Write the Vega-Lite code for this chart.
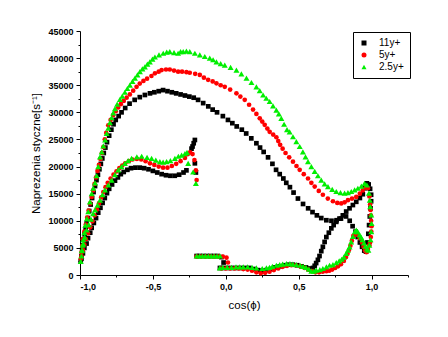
{
  "$schema": "https://vega.github.io/schema/vega-lite/v6.json",
  "width": 328,
  "height": 244,
  "autosize": {"type": "none"},
  "padding": {"left": 80, "top": 31, "right": 40, "bottom": 62},
  "background": "white",
  "config": {
    "view": {"stroke": null},
    "axis": {
      "grid": false,
      "domainColor": "black",
      "tickColor": "black",
      "labelColor": "black",
      "titleColor": "black",
      "labelFont": "Liberation Sans",
      "labelFontSize": 9,
      "labelFontWeight": "bold",
      "titleFont": "Liberation Sans",
      "titleFontSize": 11.5,
      "titleFontWeight": "normal",
      "tickSize": 4,
      "labelPadding": 3
    }
  },
  "datasets": {
    "pts": [
      {"cos": -0.995, "tau": 2500, "series": "11y+"},
      {"cos": -0.99, "tau": 3500, "series": "11y+"},
      {"cos": -0.985, "tau": 4500, "series": "11y+"},
      {"cos": -0.98, "tau": 5500, "series": "11y+"},
      {"cos": -0.975, "tau": 6500, "series": "11y+"},
      {"cos": -0.968, "tau": 7500, "series": "11y+"},
      {"cos": -0.961, "tau": 8500, "series": "11y+"},
      {"cos": -0.954, "tau": 9500, "series": "11y+"},
      {"cos": -0.946, "tau": 10500, "series": "11y+"},
      {"cos": -0.937, "tau": 11800, "series": "11y+"},
      {"cos": -0.927, "tau": 13000, "series": "11y+"},
      {"cos": -0.917, "tau": 14200, "series": "11y+"},
      {"cos": -0.907, "tau": 15300, "series": "11y+"},
      {"cos": -0.897, "tau": 16400, "series": "11y+"},
      {"cos": -0.887, "tau": 17500, "series": "11y+"},
      {"cos": -0.877, "tau": 18500, "series": "11y+"},
      {"cos": -0.867, "tau": 19500, "series": "11y+"},
      {"cos": -0.857, "tau": 20500, "series": "11y+"},
      {"cos": -0.847, "tau": 21500, "series": "11y+"},
      {"cos": -0.837, "tau": 22500, "series": "11y+"},
      {"cos": -0.826, "tau": 23500, "series": "11y+"},
      {"cos": -0.815, "tau": 24500, "series": "11y+"},
      {"cos": -0.8, "tau": 25700, "series": "11y+"},
      {"cos": -0.785, "tau": 26800, "series": "11y+"},
      {"cos": -0.77, "tau": 27800, "series": "11y+"},
      {"cos": -0.755, "tau": 28600, "series": "11y+"},
      {"cos": -0.735, "tau": 29300, "series": "11y+"},
      {"cos": -0.715, "tau": 30000, "series": "11y+"},
      {"cos": -0.69, "tau": 30800, "series": "11y+"},
      {"cos": -0.66, "tau": 31600, "series": "11y+"},
      {"cos": -0.625, "tau": 32300, "series": "11y+"},
      {"cos": -0.59, "tau": 32800, "series": "11y+"},
      {"cos": -0.555, "tau": 33200, "series": "11y+"},
      {"cos": -0.52, "tau": 33500, "series": "11y+"},
      {"cos": -0.49, "tau": 33700, "series": "11y+"},
      {"cos": -0.46, "tau": 33900, "series": "11y+"},
      {"cos": -0.43, "tau": 34100, "series": "11y+"},
      {"cos": -0.4, "tau": 33900, "series": "11y+"},
      {"cos": -0.37, "tau": 33700, "series": "11y+"},
      {"cos": -0.34, "tau": 33500, "series": "11y+"},
      {"cos": -0.31, "tau": 33300, "series": "11y+"},
      {"cos": -0.28, "tau": 33100, "series": "11y+"},
      {"cos": -0.25, "tau": 32900, "series": "11y+"},
      {"cos": -0.22, "tau": 32700, "series": "11y+"},
      {"cos": -0.19, "tau": 32300, "series": "11y+"},
      {"cos": -0.155, "tau": 31700, "series": "11y+"},
      {"cos": -0.12, "tau": 31100, "series": "11y+"},
      {"cos": -0.09, "tau": 30500, "series": "11y+"},
      {"cos": -0.06, "tau": 30000, "series": "11y+"},
      {"cos": -0.02, "tau": 29300, "series": "11y+"},
      {"cos": 0.015, "tau": 28600, "series": "11y+"},
      {"cos": 0.045, "tau": 28000, "series": "11y+"},
      {"cos": 0.075, "tau": 27400, "series": "11y+"},
      {"cos": 0.11, "tau": 26800, "series": "11y+"},
      {"cos": 0.14, "tau": 26100, "series": "11y+"},
      {"cos": 0.175, "tau": 25200, "series": "11y+"},
      {"cos": 0.21, "tau": 24300, "series": "11y+"},
      {"cos": 0.235, "tau": 23500, "series": "11y+"},
      {"cos": 0.26, "tau": 22700, "series": "11y+"},
      {"cos": 0.29, "tau": 21700, "series": "11y+"},
      {"cos": 0.32, "tau": 20500, "series": "11y+"},
      {"cos": 0.345, "tau": 19400, "series": "11y+"},
      {"cos": 0.37, "tau": 18600, "series": "11y+"},
      {"cos": 0.395, "tau": 17800, "series": "11y+"},
      {"cos": 0.415, "tau": 17000, "series": "11y+"},
      {"cos": 0.44, "tau": 16200, "series": "11y+"},
      {"cos": 0.465, "tau": 15200, "series": "11y+"},
      {"cos": 0.495, "tau": 14100, "series": "11y+"},
      {"cos": 0.53, "tau": 13100, "series": "11y+"},
      {"cos": 0.565, "tau": 12300, "series": "11y+"},
      {"cos": 0.595, "tau": 11600, "series": "11y+"},
      {"cos": 0.625, "tau": 11000, "series": "11y+"},
      {"cos": 0.655, "tau": 10500, "series": "11y+"},
      {"cos": 0.69, "tau": 10100, "series": "11y+"},
      {"cos": 0.725, "tau": 10000, "series": "11y+"},
      {"cos": 0.76, "tau": 10100, "series": "11y+"},
      {"cos": 0.79, "tau": 10400, "series": "11y+"},
      {"cos": 0.825, "tau": 10800, "series": "11y+"},
      {"cos": 0.85, "tau": 10000, "series": "11y+"},
      {"cos": 0.87, "tau": 9000, "series": "11y+"},
      {"cos": 0.89, "tau": 8000, "series": "11y+"},
      {"cos": 0.905, "tau": 7000, "series": "11y+"},
      {"cos": 0.92, "tau": 6000, "series": "11y+"},
      {"cos": 0.935, "tau": 5200, "series": "11y+"},
      {"cos": 0.95, "tau": 4500, "series": "11y+"},
      {"cos": 0.962, "tau": 4300, "series": "11y+"},
      {"cos": 0.972, "tau": 6000, "series": "11y+"},
      {"cos": 0.978, "tau": 7600, "series": "11y+"},
      {"cos": 0.983, "tau": 9200, "series": "11y+"},
      {"cos": 0.988, "tau": 10800, "series": "11y+"},
      {"cos": 0.993, "tau": 12300, "series": "11y+"},
      {"cos": 0.997, "tau": 13600, "series": "11y+"},
      {"cos": 0.997, "tau": 14800, "series": "11y+"},
      {"cos": 0.99, "tau": 15900, "series": "11y+"},
      {"cos": 0.98, "tau": 16700, "series": "11y+"},
      {"cos": 0.968, "tau": 16900, "series": "11y+"},
      {"cos": 0.955, "tau": 16000, "series": "11y+"},
      {"cos": 0.94, "tau": 14900, "series": "11y+"},
      {"cos": 0.92, "tau": 14200, "series": "11y+"},
      {"cos": 0.895, "tau": 13500, "series": "11y+"},
      {"cos": 0.872, "tau": 12900, "series": "11y+"},
      {"cos": 0.849, "tau": 12300, "series": "11y+"},
      {"cos": 0.826, "tau": 11700, "series": "11y+"},
      {"cos": 0.803, "tau": 11000, "series": "11y+"},
      {"cos": 0.78, "tau": 10400, "series": "11y+"},
      {"cos": 0.758, "tau": 9800, "series": "11y+"},
      {"cos": 0.74, "tau": 9200, "series": "11y+"},
      {"cos": 0.724, "tau": 8600, "series": "11y+"},
      {"cos": 0.707, "tau": 7800, "series": "11y+"},
      {"cos": 0.69, "tau": 7000, "series": "11y+"},
      {"cos": 0.678, "tau": 6100, "series": "11y+"},
      {"cos": 0.666, "tau": 5200, "series": "11y+"},
      {"cos": 0.655, "tau": 4400, "series": "11y+"},
      {"cos": 0.643, "tau": 3500, "series": "11y+"},
      {"cos": 0.632, "tau": 2800, "series": "11y+"},
      {"cos": 0.62, "tau": 2200, "series": "11y+"},
      {"cos": 0.61, "tau": 1700, "series": "11y+"},
      {"cos": 0.598, "tau": 1300, "series": "11y+"},
      {"cos": 0.585, "tau": 1000, "series": "11y+"},
      {"cos": 0.57, "tau": 1200, "series": "11y+"},
      {"cos": 0.55, "tau": 1400, "series": "11y+"},
      {"cos": 0.52, "tau": 1600, "series": "11y+"},
      {"cos": 0.49, "tau": 1800, "series": "11y+"},
      {"cos": 0.46, "tau": 1900, "series": "11y+"},
      {"cos": 0.43, "tau": 1900, "series": "11y+"},
      {"cos": 0.4, "tau": 1800, "series": "11y+"},
      {"cos": 0.37, "tau": 1600, "series": "11y+"},
      {"cos": 0.34, "tau": 1400, "series": "11y+"},
      {"cos": 0.31, "tau": 1100, "series": "11y+"},
      {"cos": 0.28, "tau": 900, "series": "11y+"},
      {"cos": 0.25, "tau": 800, "series": "11y+"},
      {"cos": 0.22, "tau": 900, "series": "11y+"},
      {"cos": 0.19, "tau": 1100, "series": "11y+"},
      {"cos": 0.16, "tau": 1300, "series": "11y+"},
      {"cos": 0.13, "tau": 1300, "series": "11y+"},
      {"cos": 0.1, "tau": 1300, "series": "11y+"},
      {"cos": 0.07, "tau": 1300, "series": "11y+"},
      {"cos": 0.04, "tau": 1300, "series": "11y+"},
      {"cos": 0.01, "tau": 1300, "series": "11y+"},
      {"cos": -0.02, "tau": 1300, "series": "11y+"},
      {"cos": -0.04, "tau": 1300, "series": "11y+"},
      {"cos": -0.015, "tau": 2300, "series": "11y+"},
      {"cos": -0.03, "tau": 3300, "series": "11y+"},
      {"cos": -0.055, "tau": 3500, "series": "11y+"},
      {"cos": -0.08, "tau": 3500, "series": "11y+"},
      {"cos": -0.105, "tau": 3500, "series": "11y+"},
      {"cos": -0.13, "tau": 3500, "series": "11y+"},
      {"cos": -0.155, "tau": 3500, "series": "11y+"},
      {"cos": -0.18, "tau": 3500, "series": "11y+"},
      {"cos": -0.2, "tau": 3500, "series": "11y+"},
      {"cos": -0.205, "tau": 18900, "series": "11y+"},
      {"cos": -0.212, "tau": 20600, "series": "11y+"},
      {"cos": -0.235, "tau": 23300, "series": "11y+"},
      {"cos": -0.228, "tau": 23700, "series": "11y+"},
      {"cos": -0.22, "tau": 24300, "series": "11y+"},
      {"cos": -0.212, "tau": 24900, "series": "11y+"},
      {"cos": -0.99, "tau": 3000, "series": "11y+"},
      {"cos": -0.98, "tau": 4000, "series": "11y+"},
      {"cos": -0.97, "tau": 5000, "series": "11y+"},
      {"cos": -0.955, "tau": 5800, "series": "11y+"},
      {"cos": -0.945, "tau": 6800, "series": "11y+"},
      {"cos": -0.93, "tau": 7800, "series": "11y+"},
      {"cos": -0.92, "tau": 8700, "series": "11y+"},
      {"cos": -0.905, "tau": 9600, "series": "11y+"},
      {"cos": -0.89, "tau": 10500, "series": "11y+"},
      {"cos": -0.875, "tau": 11500, "series": "11y+"},
      {"cos": -0.86, "tau": 12400, "series": "11y+"},
      {"cos": -0.845, "tau": 13300, "series": "11y+"},
      {"cos": -0.83, "tau": 14200, "series": "11y+"},
      {"cos": -0.815, "tau": 15100, "series": "11y+"},
      {"cos": -0.8, "tau": 15900, "series": "11y+"},
      {"cos": -0.78, "tau": 16700, "series": "11y+"},
      {"cos": -0.76, "tau": 17400, "series": "11y+"},
      {"cos": -0.74, "tau": 18000, "series": "11y+"},
      {"cos": -0.72, "tau": 18600, "series": "11y+"},
      {"cos": -0.7, "tau": 19000, "series": "11y+"},
      {"cos": -0.675, "tau": 19400, "series": "11y+"},
      {"cos": -0.65, "tau": 19700, "series": "11y+"},
      {"cos": -0.62, "tau": 19800, "series": "11y+"},
      {"cos": -0.59, "tau": 19800, "series": "11y+"},
      {"cos": -0.56, "tau": 19700, "series": "11y+"},
      {"cos": -0.53, "tau": 19500, "series": "11y+"},
      {"cos": -0.5, "tau": 19200, "series": "11y+"},
      {"cos": -0.47, "tau": 18900, "series": "11y+"},
      {"cos": -0.44, "tau": 18600, "series": "11y+"},
      {"cos": -0.41, "tau": 18400, "series": "11y+"},
      {"cos": -0.38, "tau": 18300, "series": "11y+"},
      {"cos": -0.35, "tau": 18300, "series": "11y+"},
      {"cos": -0.32, "tau": 18500, "series": "11y+"},
      {"cos": -0.29, "tau": 18900, "series": "11y+"},
      {"cos": -0.27, "tau": 19300, "series": "11y+"},

      {"cos": -0.995, "tau": 3000, "series": "5y+"},
      {"cos": -0.99, "tau": 4200, "series": "5y+"},
      {"cos": -0.985, "tau": 5400, "series": "5y+"},
      {"cos": -0.98, "tau": 6600, "series": "5y+"},
      {"cos": -0.97, "tau": 8000, "series": "5y+"},
      {"cos": -0.96, "tau": 9300, "series": "5y+"},
      {"cos": -0.95, "tau": 10600, "series": "5y+"},
      {"cos": -0.94, "tau": 11900, "series": "5y+"},
      {"cos": -0.93, "tau": 13200, "series": "5y+"},
      {"cos": -0.92, "tau": 14400, "series": "5y+"},
      {"cos": -0.91, "tau": 15600, "series": "5y+"},
      {"cos": -0.9, "tau": 16800, "series": "5y+"},
      {"cos": -0.89, "tau": 18000, "series": "5y+"},
      {"cos": -0.88, "tau": 19200, "series": "5y+"},
      {"cos": -0.87, "tau": 20300, "series": "5y+"},
      {"cos": -0.86, "tau": 21400, "series": "5y+"},
      {"cos": -0.85, "tau": 22500, "series": "5y+"},
      {"cos": -0.84, "tau": 23600, "series": "5y+"},
      {"cos": -0.83, "tau": 25000, "series": "5y+"},
      {"cos": -0.82, "tau": 26200, "series": "5y+"},
      {"cos": -0.806, "tau": 27600, "series": "5y+"},
      {"cos": -0.79, "tau": 28600, "series": "5y+"},
      {"cos": -0.772, "tau": 29500, "series": "5y+"},
      {"cos": -0.755, "tau": 30200, "series": "5y+"},
      {"cos": -0.738, "tau": 30900, "series": "5y+"},
      {"cos": -0.72, "tau": 31500, "series": "5y+"},
      {"cos": -0.7, "tau": 32100, "series": "5y+"},
      {"cos": -0.68, "tau": 32700, "series": "5y+"},
      {"cos": -0.658, "tau": 33300, "series": "5y+"},
      {"cos": -0.635, "tau": 34000, "series": "5y+"},
      {"cos": -0.612, "tau": 34700, "series": "5y+"},
      {"cos": -0.59, "tau": 35300, "series": "5y+"},
      {"cos": -0.565, "tau": 35800, "series": "5y+"},
      {"cos": -0.54, "tau": 36200, "series": "5y+"},
      {"cos": -0.51, "tau": 36700, "series": "5y+"},
      {"cos": -0.486, "tau": 37200, "series": "5y+"},
      {"cos": -0.46, "tau": 37500, "series": "5y+"},
      {"cos": -0.44, "tau": 37800, "series": "5y+"},
      {"cos": -0.41, "tau": 37900, "series": "5y+"},
      {"cos": -0.384, "tau": 37900, "series": "5y+"},
      {"cos": -0.355, "tau": 37700, "series": "5y+"},
      {"cos": -0.327, "tau": 37500, "series": "5y+"},
      {"cos": -0.3, "tau": 37500, "series": "5y+"},
      {"cos": -0.27, "tau": 37400, "series": "5y+"},
      {"cos": -0.247, "tau": 37300, "series": "5y+"},
      {"cos": -0.21, "tau": 37100, "series": "5y+"},
      {"cos": -0.178, "tau": 36900, "series": "5y+"},
      {"cos": -0.15, "tau": 36400, "series": "5y+"},
      {"cos": -0.121, "tau": 36000, "series": "5y+"},
      {"cos": -0.09, "tau": 35700, "series": "5y+"},
      {"cos": -0.064, "tau": 35350, "series": "5y+"},
      {"cos": -0.035, "tau": 35000, "series": "5y+"},
      {"cos": -0.007, "tau": 34700, "series": "5y+"},
      {"cos": 0.03, "tau": 34200, "series": "5y+"},
      {"cos": 0.073, "tau": 33500, "series": "5y+"},
      {"cos": 0.1, "tau": 32900, "series": "5y+"},
      {"cos": 0.13, "tau": 32300, "series": "5y+"},
      {"cos": 0.16, "tau": 31400, "series": "5y+"},
      {"cos": 0.187, "tau": 30500, "series": "5y+"},
      {"cos": 0.21, "tau": 29700, "series": "5y+"},
      {"cos": 0.233, "tau": 28900, "series": "5y+"},
      {"cos": 0.25, "tau": 28300, "series": "5y+"},
      {"cos": 0.267, "tau": 27700, "series": "5y+"},
      {"cos": 0.285, "tau": 27000, "series": "5y+"},
      {"cos": 0.301, "tau": 26400, "series": "5y+"},
      {"cos": 0.325, "tau": 25900, "series": "5y+"},
      {"cos": 0.347, "tau": 25400, "series": "5y+"},
      {"cos": 0.36, "tau": 24700, "series": "5y+"},
      {"cos": 0.373, "tau": 24000, "series": "5y+"},
      {"cos": 0.39, "tau": 23300, "series": "5y+"},
      {"cos": 0.41, "tau": 22500, "series": "5y+"},
      {"cos": 0.435, "tau": 21700, "series": "5y+"},
      {"cos": 0.461, "tau": 20900, "series": "5y+"},
      {"cos": 0.485, "tau": 20100, "series": "5y+"},
      {"cos": 0.507, "tau": 19400, "series": "5y+"},
      {"cos": 0.535, "tau": 18600, "series": "5y+"},
      {"cos": 0.564, "tau": 17800, "series": "5y+"},
      {"cos": 0.587, "tau": 17000, "series": "5y+"},
      {"cos": 0.61, "tau": 16300, "series": "5y+"},
      {"cos": 0.638, "tau": 15500, "series": "5y+"},
      {"cos": 0.666, "tau": 14800, "series": "5y+"},
      {"cos": 0.7, "tau": 14100, "series": "5y+"},
      {"cos": 0.735, "tau": 13600, "series": "5y+"},
      {"cos": 0.765, "tau": 13300, "series": "5y+"},
      {"cos": 0.792, "tau": 13200, "series": "5y+"},
      {"cos": 0.815, "tau": 13400, "series": "5y+"},
      {"cos": 0.838, "tau": 13800, "series": "5y+"},
      {"cos": 0.866, "tau": 14100, "series": "5y+"},
      {"cos": 0.895, "tau": 14400, "series": "5y+"},
      {"cos": 0.92, "tau": 15000, "series": "5y+"},
      {"cos": 0.94, "tau": 15600, "series": "5y+"},
      {"cos": 0.96, "tau": 16100, "series": "5y+"},
      {"cos": 0.975, "tau": 16000, "series": "5y+"},
      {"cos": 0.985, "tau": 14500, "series": "5y+"},
      {"cos": 0.99, "tau": 13000, "series": "5y+"},
      {"cos": 0.993, "tau": 12000, "series": "5y+"},
      {"cos": 0.995, "tau": 11000, "series": "5y+"},
      {"cos": 0.997, "tau": 10000, "series": "5y+"},
      {"cos": 1.0, "tau": 9000, "series": "5y+"},
      {"cos": 0.998, "tau": 8000, "series": "5y+"},
      {"cos": 0.995, "tau": 7000, "series": "5y+"},
      {"cos": 0.99, "tau": 6000, "series": "5y+"},
      {"cos": 0.985, "tau": 5500, "series": "5y+"},
      {"cos": 0.975, "tau": 4800, "series": "5y+"},
      {"cos": 0.965, "tau": 4200, "series": "5y+"},
      {"cos": 0.955, "tau": 4500, "series": "5y+"},
      {"cos": 0.945, "tau": 5200, "series": "5y+"},
      {"cos": 0.935, "tau": 6000, "series": "5y+"},
      {"cos": 0.92, "tau": 6800, "series": "5y+"},
      {"cos": 0.905, "tau": 7400, "series": "5y+"},
      {"cos": 0.89, "tau": 7600, "series": "5y+"},
      {"cos": 0.875, "tau": 7200, "series": "5y+"},
      {"cos": 0.865, "tau": 6300, "series": "5y+"},
      {"cos": 0.855, "tau": 5400, "series": "5y+"},
      {"cos": 0.845, "tau": 4600, "series": "5y+"},
      {"cos": 0.835, "tau": 3900, "series": "5y+"},
      {"cos": 0.825, "tau": 3300, "series": "5y+"},
      {"cos": 0.81, "tau": 2600, "series": "5y+"},
      {"cos": 0.79, "tau": 2000, "series": "5y+"},
      {"cos": 0.77, "tau": 1600, "series": "5y+"},
      {"cos": 0.75, "tau": 1300, "series": "5y+"},
      {"cos": 0.73, "tau": 1000, "series": "5y+"},
      {"cos": 0.71, "tau": 800, "series": "5y+"},
      {"cos": 0.69, "tau": 700, "series": "5y+"},
      {"cos": 0.665, "tau": 600, "series": "5y+"},
      {"cos": 0.64, "tau": 500, "series": "5y+"},
      {"cos": 0.615, "tau": 500, "series": "5y+"},
      {"cos": 0.59, "tau": 700, "series": "5y+"},
      {"cos": 0.565, "tau": 1000, "series": "5y+"},
      {"cos": 0.54, "tau": 1300, "series": "5y+"},
      {"cos": 0.51, "tau": 1600, "series": "5y+"},
      {"cos": 0.48, "tau": 1800, "series": "5y+"},
      {"cos": 0.45, "tau": 1800, "series": "5y+"},
      {"cos": 0.42, "tau": 1700, "series": "5y+"},
      {"cos": 0.39, "tau": 1500, "series": "5y+"},
      {"cos": 0.36, "tau": 1200, "series": "5y+"},
      {"cos": 0.33, "tau": 900, "series": "5y+"},
      {"cos": 0.3, "tau": 600, "series": "5y+"},
      {"cos": 0.27, "tau": 400, "series": "5y+"},
      {"cos": 0.24, "tau": 300, "series": "5y+"},
      {"cos": 0.21, "tau": 500, "series": "5y+"},
      {"cos": 0.18, "tau": 800, "series": "5y+"},
      {"cos": 0.15, "tau": 1000, "series": "5y+"},
      {"cos": 0.12, "tau": 1100, "series": "5y+"},
      {"cos": 0.09, "tau": 1200, "series": "5y+"},
      {"cos": 0.06, "tau": 1200, "series": "5y+"},
      {"cos": 0.03, "tau": 1200, "series": "5y+"},
      {"cos": 0.0, "tau": 1200, "series": "5y+"},
      {"cos": -0.03, "tau": 1200, "series": "5y+"},
      {"cos": 0.015, "tau": 2300, "series": "5y+"},
      {"cos": 0.005, "tau": 3200, "series": "5y+"},
      {"cos": -0.02, "tau": 3400, "series": "5y+"},
      {"cos": -0.05, "tau": 3400, "series": "5y+"},
      {"cos": -0.08, "tau": 3400, "series": "5y+"},
      {"cos": -0.11, "tau": 3400, "series": "5y+"},
      {"cos": -0.14, "tau": 3400, "series": "5y+"},
      {"cos": -0.17, "tau": 3400, "series": "5y+"},
      {"cos": -0.2, "tau": 3400, "series": "5y+"},
      {"cos": -0.99, "tau": 3500, "series": "5y+"},
      {"cos": -0.98, "tau": 4600, "series": "5y+"},
      {"cos": -0.97, "tau": 5600, "series": "5y+"},
      {"cos": -0.96, "tau": 6600, "series": "5y+"},
      {"cos": -0.945, "tau": 7700, "series": "5y+"},
      {"cos": -0.93, "tau": 8800, "series": "5y+"},
      {"cos": -0.915, "tau": 9900, "series": "5y+"},
      {"cos": -0.9, "tau": 11000, "series": "5y+"},
      {"cos": -0.885, "tau": 12100, "series": "5y+"},
      {"cos": -0.87, "tau": 13200, "series": "5y+"},
      {"cos": -0.855, "tau": 14300, "series": "5y+"},
      {"cos": -0.84, "tau": 15300, "series": "5y+"},
      {"cos": -0.825, "tau": 16200, "series": "5y+"},
      {"cos": -0.81, "tau": 17000, "series": "5y+"},
      {"cos": -0.79, "tau": 17800, "series": "5y+"},
      {"cos": -0.77, "tau": 18500, "series": "5y+"},
      {"cos": -0.75, "tau": 19100, "series": "5y+"},
      {"cos": -0.73, "tau": 19700, "series": "5y+"},
      {"cos": -0.71, "tau": 20200, "series": "5y+"},
      {"cos": -0.69, "tau": 20600, "series": "5y+"},
      {"cos": -0.665, "tau": 21000, "series": "5y+"},
      {"cos": -0.64, "tau": 21300, "series": "5y+"},
      {"cos": -0.61, "tau": 21400, "series": "5y+"},
      {"cos": -0.58, "tau": 21300, "series": "5y+"},
      {"cos": -0.55, "tau": 21000, "series": "5y+"},
      {"cos": -0.52, "tau": 20600, "series": "5y+"},
      {"cos": -0.49, "tau": 20300, "series": "5y+"},
      {"cos": -0.46, "tau": 20000, "series": "5y+"},
      {"cos": -0.43, "tau": 19800, "series": "5y+"},
      {"cos": -0.4, "tau": 19800, "series": "5y+"},
      {"cos": -0.37, "tau": 20100, "series": "5y+"},
      {"cos": -0.34, "tau": 20500, "series": "5y+"},
      {"cos": -0.31, "tau": 21000, "series": "5y+"},
      {"cos": -0.28, "tau": 21600, "series": "5y+"},
      {"cos": -0.26, "tau": 22300, "series": "5y+"},
      {"cos": -0.245, "tau": 22600, "series": "5y+"},
      {"cos": -0.228, "tau": 22300, "series": "5y+"},
      {"cos": -0.215, "tau": 21200, "series": "5y+"},
      {"cos": -0.205, "tau": 19300, "series": "5y+"},
      {"cos": -0.2, "tau": 17500, "series": "5y+"},

      {"cos": -0.995, "tau": 2500, "series": "2.5y+"},
      {"cos": -0.99, "tau": 3500, "series": "2.5y+"},
      {"cos": -0.988, "tau": 4500, "series": "2.5y+"},
      {"cos": -0.982, "tau": 5500, "series": "2.5y+"},
      {"cos": -0.977, "tau": 6500, "series": "2.5y+"},
      {"cos": -0.97, "tau": 7800, "series": "2.5y+"},
      {"cos": -0.963, "tau": 9200, "series": "2.5y+"},
      {"cos": -0.953, "tau": 10400, "series": "2.5y+"},
      {"cos": -0.943, "tau": 11700, "series": "2.5y+"},
      {"cos": -0.932, "tau": 13500, "series": "2.5y+"},
      {"cos": -0.92, "tau": 15000, "series": "2.5y+"},
      {"cos": -0.909, "tau": 16000, "series": "2.5y+"},
      {"cos": -0.897, "tau": 17000, "series": "2.5y+"},
      {"cos": -0.886, "tau": 18300, "series": "2.5y+"},
      {"cos": -0.875, "tau": 20000, "series": "2.5y+"},
      {"cos": -0.863, "tau": 21800, "series": "2.5y+"},
      {"cos": -0.851, "tau": 22700, "series": "2.5y+"},
      {"cos": -0.84, "tau": 23800, "series": "2.5y+"},
      {"cos": -0.828, "tau": 24900, "series": "2.5y+"},
      {"cos": -0.817, "tau": 26100, "series": "2.5y+"},
      {"cos": -0.806, "tau": 27100, "series": "2.5y+"},
      {"cos": -0.795, "tau": 28100, "series": "2.5y+"},
      {"cos": -0.783, "tau": 29000, "series": "2.5y+"},
      {"cos": -0.772, "tau": 29900, "series": "2.5y+"},
      {"cos": -0.76, "tau": 30700, "series": "2.5y+"},
      {"cos": -0.745, "tau": 31500, "series": "2.5y+"},
      {"cos": -0.726, "tau": 32400, "series": "2.5y+"},
      {"cos": -0.71, "tau": 33000, "series": "2.5y+"},
      {"cos": -0.692, "tau": 33700, "series": "2.5y+"},
      {"cos": -0.675, "tau": 34400, "series": "2.5y+"},
      {"cos": -0.658, "tau": 35000, "series": "2.5y+"},
      {"cos": -0.64, "tau": 35700, "series": "2.5y+"},
      {"cos": -0.623, "tau": 36300, "series": "2.5y+"},
      {"cos": -0.606, "tau": 36900, "series": "2.5y+"},
      {"cos": -0.589, "tau": 37500, "series": "2.5y+"},
      {"cos": -0.572, "tau": 38000, "series": "2.5y+"},
      {"cos": -0.555, "tau": 38400, "series": "2.5y+"},
      {"cos": -0.538, "tau": 38900, "series": "2.5y+"},
      {"cos": -0.521, "tau": 39300, "series": "2.5y+"},
      {"cos": -0.503, "tau": 39800, "series": "2.5y+"},
      {"cos": -0.486, "tau": 40200, "series": "2.5y+"},
      {"cos": -0.458, "tau": 40600, "series": "2.5y+"},
      {"cos": -0.429, "tau": 40900, "series": "2.5y+"},
      {"cos": -0.405, "tau": 41100, "series": "2.5y+"},
      {"cos": -0.384, "tau": 41200, "series": "2.5y+"},
      {"cos": -0.355, "tau": 41000, "series": "2.5y+"},
      {"cos": -0.327, "tau": 40900, "series": "2.5y+"},
      {"cos": -0.31, "tau": 41200, "series": "2.5y+"},
      {"cos": -0.292, "tau": 41200, "series": "2.5y+"},
      {"cos": -0.27, "tau": 41300, "series": "2.5y+"},
      {"cos": -0.247, "tau": 41200, "series": "2.5y+"},
      {"cos": -0.212, "tau": 40900, "series": "2.5y+"},
      {"cos": -0.178, "tau": 40600, "series": "2.5y+"},
      {"cos": -0.144, "tau": 40300, "series": "2.5y+"},
      {"cos": -0.11, "tau": 40000, "series": "2.5y+"},
      {"cos": -0.087, "tau": 39700, "series": "2.5y+"},
      {"cos": -0.064, "tau": 39300, "series": "2.5y+"},
      {"cos": -0.035, "tau": 39000, "series": "2.5y+"},
      {"cos": -0.007, "tau": 38700, "series": "2.5y+"},
      {"cos": 0.033, "tau": 38300, "series": "2.5y+"},
      {"cos": 0.073, "tau": 37800, "series": "2.5y+"},
      {"cos": 0.107, "tau": 37100, "series": "2.5y+"},
      {"cos": 0.142, "tau": 36300, "series": "2.5y+"},
      {"cos": 0.176, "tau": 35500, "series": "2.5y+"},
      {"cos": 0.21, "tau": 34700, "series": "2.5y+"},
      {"cos": 0.233, "tau": 34000, "series": "2.5y+"},
      {"cos": 0.256, "tau": 33200, "series": "2.5y+"},
      {"cos": 0.278, "tau": 32600, "series": "2.5y+"},
      {"cos": 0.301, "tau": 32000, "series": "2.5y+"},
      {"cos": 0.324, "tau": 31200, "series": "2.5y+"},
      {"cos": 0.347, "tau": 30400, "series": "2.5y+"},
      {"cos": 0.364, "tau": 29700, "series": "2.5y+"},
      {"cos": 0.381, "tau": 28900, "series": "2.5y+"},
      {"cos": 0.4, "tau": 27800, "series": "2.5y+"},
      {"cos": 0.42, "tau": 26800, "series": "2.5y+"},
      {"cos": 0.438, "tau": 26400, "series": "2.5y+"},
      {"cos": 0.461, "tau": 25500, "series": "2.5y+"},
      {"cos": 0.484, "tau": 24600, "series": "2.5y+"},
      {"cos": 0.507, "tau": 23700, "series": "2.5y+"},
      {"cos": 0.529, "tau": 22700, "series": "2.5y+"},
      {"cos": 0.547, "tau": 21800, "series": "2.5y+"},
      {"cos": 0.564, "tau": 20900, "series": "2.5y+"},
      {"cos": 0.587, "tau": 20000, "series": "2.5y+"},
      {"cos": 0.61, "tau": 19100, "series": "2.5y+"},
      {"cos": 0.632, "tau": 18300, "series": "2.5y+"},
      {"cos": 0.655, "tau": 17500, "series": "2.5y+"},
      {"cos": 0.678, "tau": 16800, "series": "2.5y+"},
      {"cos": 0.701, "tau": 16300, "series": "2.5y+"},
      {"cos": 0.73, "tau": 15800, "series": "2.5y+"},
      {"cos": 0.758, "tau": 15400, "series": "2.5y+"},
      {"cos": 0.787, "tau": 15200, "series": "2.5y+"},
      {"cos": 0.815, "tau": 15100, "series": "2.5y+"},
      {"cos": 0.838, "tau": 15200, "series": "2.5y+"},
      {"cos": 0.861, "tau": 15400, "series": "2.5y+"},
      {"cos": 0.884, "tau": 15700, "series": "2.5y+"},
      {"cos": 0.906, "tau": 16000, "series": "2.5y+"},
      {"cos": 0.93, "tau": 16400, "series": "2.5y+"},
      {"cos": 0.952, "tau": 16900, "series": "2.5y+"},
      {"cos": 0.968, "tau": 16600, "series": "2.5y+"},
      {"cos": 0.982, "tau": 15100, "series": "2.5y+"},
      {"cos": 0.988, "tau": 13800, "series": "2.5y+"},
      {"cos": 0.991, "tau": 12600, "series": "2.5y+"},
      {"cos": 0.998, "tau": 11100, "series": "2.5y+"},
      {"cos": 1.0, "tau": 9500, "series": "2.5y+"},
      {"cos": 0.998, "tau": 8000, "series": "2.5y+"},
      {"cos": 0.993, "tau": 6500, "series": "2.5y+"},
      {"cos": 0.985, "tau": 5500, "series": "2.5y+"},
      {"cos": 0.978, "tau": 4600, "series": "2.5y+"},
      {"cos": 0.968, "tau": 4800, "series": "2.5y+"},
      {"cos": 0.958, "tau": 5300, "series": "2.5y+"},
      {"cos": 0.948, "tau": 5900, "series": "2.5y+"},
      {"cos": 0.938, "tau": 6500, "series": "2.5y+"},
      {"cos": 0.928, "tau": 7000, "series": "2.5y+"},
      {"cos": 0.918, "tau": 7400, "series": "2.5y+"},
      {"cos": 0.905, "tau": 8000, "series": "2.5y+"},
      {"cos": 0.895, "tau": 8300, "series": "2.5y+"},
      {"cos": 0.885, "tau": 8000, "series": "2.5y+"},
      {"cos": 0.872, "tau": 7100, "series": "2.5y+"},
      {"cos": 0.86, "tau": 6100, "series": "2.5y+"},
      {"cos": 0.849, "tau": 5200, "series": "2.5y+"},
      {"cos": 0.838, "tau": 4600, "series": "2.5y+"},
      {"cos": 0.826, "tau": 4000, "series": "2.5y+"},
      {"cos": 0.81, "tau": 3300, "series": "2.5y+"},
      {"cos": 0.795, "tau": 2900, "series": "2.5y+"},
      {"cos": 0.778, "tau": 2600, "series": "2.5y+"},
      {"cos": 0.758, "tau": 2300, "series": "2.5y+"},
      {"cos": 0.735, "tau": 1900, "series": "2.5y+"},
      {"cos": 0.712, "tau": 1800, "series": "2.5y+"},
      {"cos": 0.69, "tau": 1500, "series": "2.5y+"},
      {"cos": 0.666, "tau": 1200, "series": "2.5y+"},
      {"cos": 0.645, "tau": 1000, "series": "2.5y+"},
      {"cos": 0.621, "tau": 900, "series": "2.5y+"},
      {"cos": 0.605, "tau": 700, "series": "2.5y+"},
      {"cos": 0.587, "tau": 700, "series": "2.5y+"},
      {"cos": 0.57, "tau": 1100, "series": "2.5y+"},
      {"cos": 0.55, "tau": 1400, "series": "2.5y+"},
      {"cos": 0.53, "tau": 1600, "series": "2.5y+"},
      {"cos": 0.51, "tau": 1800, "series": "2.5y+"},
      {"cos": 0.484, "tau": 1900, "series": "2.5y+"},
      {"cos": 0.46, "tau": 2000, "series": "2.5y+"},
      {"cos": 0.44, "tau": 2100, "series": "2.5y+"},
      {"cos": 0.416, "tau": 2100, "series": "2.5y+"},
      {"cos": 0.39, "tau": 2000, "series": "2.5y+"},
      {"cos": 0.37, "tau": 1900, "series": "2.5y+"},
      {"cos": 0.347, "tau": 1800, "series": "2.5y+"},
      {"cos": 0.32, "tau": 1600, "series": "2.5y+"},
      {"cos": 0.3, "tau": 1400, "series": "2.5y+"},
      {"cos": 0.279, "tau": 1300, "series": "2.5y+"},
      {"cos": 0.25, "tau": 1200, "series": "2.5y+"},
      {"cos": 0.21, "tau": 1300, "series": "2.5y+"},
      {"cos": 0.18, "tau": 1400, "series": "2.5y+"},
      {"cos": 0.15, "tau": 1500, "series": "2.5y+"},
      {"cos": 0.12, "tau": 1500, "series": "2.5y+"},
      {"cos": 0.096, "tau": 1500, "series": "2.5y+"},
      {"cos": 0.07, "tau": 1500, "series": "2.5y+"},
      {"cos": 0.04, "tau": 1400, "series": "2.5y+"},
      {"cos": 0.01, "tau": 1400, "series": "2.5y+"},
      {"cos": -0.02, "tau": 1400, "series": "2.5y+"},
      {"cos": -0.041, "tau": 1300, "series": "2.5y+"},
      {"cos": -0.04, "tau": 3500, "series": "2.5y+"},
      {"cos": -0.06, "tau": 3500, "series": "2.5y+"},
      {"cos": -0.08, "tau": 3500, "series": "2.5y+"},
      {"cos": -0.1, "tau": 3500, "series": "2.5y+"},
      {"cos": -0.12, "tau": 3500, "series": "2.5y+"},
      {"cos": -0.14, "tau": 3500, "series": "2.5y+"},
      {"cos": -0.16, "tau": 3500, "series": "2.5y+"},
      {"cos": -0.18, "tau": 3500, "series": "2.5y+"},
      {"cos": -0.2, "tau": 3500, "series": "2.5y+"},
      {"cos": -0.985, "tau": 4600, "series": "2.5y+"},
      {"cos": -0.978, "tau": 5800, "series": "2.5y+"},
      {"cos": -0.968, "tau": 7000, "series": "2.5y+"},
      {"cos": -0.955, "tau": 8300, "series": "2.5y+"},
      {"cos": -0.94, "tau": 9300, "series": "2.5y+"},
      {"cos": -0.925, "tau": 10300, "series": "2.5y+"},
      {"cos": -0.91, "tau": 11300, "series": "2.5y+"},
      {"cos": -0.897, "tau": 12000, "series": "2.5y+"},
      {"cos": -0.88, "tau": 12900, "series": "2.5y+"},
      {"cos": -0.863, "tau": 13800, "series": "2.5y+"},
      {"cos": -0.846, "tau": 14800, "series": "2.5y+"},
      {"cos": -0.829, "tau": 15700, "series": "2.5y+"},
      {"cos": -0.806, "tau": 16600, "series": "2.5y+"},
      {"cos": -0.783, "tau": 17500, "series": "2.5y+"},
      {"cos": -0.76, "tau": 18500, "series": "2.5y+"},
      {"cos": -0.738, "tau": 19400, "series": "2.5y+"},
      {"cos": -0.715, "tau": 20000, "series": "2.5y+"},
      {"cos": -0.692, "tau": 20600, "series": "2.5y+"},
      {"cos": -0.67, "tau": 21100, "series": "2.5y+"},
      {"cos": -0.646, "tau": 21500, "series": "2.5y+"},
      {"cos": -0.61, "tau": 21800, "series": "2.5y+"},
      {"cos": -0.577, "tau": 21900, "series": "2.5y+"},
      {"cos": -0.54, "tau": 21700, "series": "2.5y+"},
      {"cos": -0.509, "tau": 21500, "series": "2.5y+"},
      {"cos": -0.48, "tau": 21200, "series": "2.5y+"},
      {"cos": -0.452, "tau": 20900, "series": "2.5y+"},
      {"cos": -0.43, "tau": 20800, "series": "2.5y+"},
      {"cos": -0.406, "tau": 20900, "series": "2.5y+"},
      {"cos": -0.38, "tau": 21100, "series": "2.5y+"},
      {"cos": -0.349, "tau": 21500, "series": "2.5y+"},
      {"cos": -0.325, "tau": 21900, "series": "2.5y+"},
      {"cos": -0.303, "tau": 22100, "series": "2.5y+"},
      {"cos": -0.28, "tau": 22400, "series": "2.5y+"},
      {"cos": -0.266, "tau": 22600, "series": "2.5y+"},
      {"cos": -0.258, "tau": 20600, "series": "2.5y+"},
      {"cos": -0.224, "tau": 19000, "series": "2.5y+"},
      {"cos": -0.205, "tau": 16900, "series": "2.5y+"}
    ]
  },
  "data": {"name": "pts"},
  "layer": [
    {
      "mark": {"type": "point", "filled": true, "opacity": 1},
      "encoding": {
        "x": {
          "field": "cos",
          "type": "quantitative",
          "scale": {"domain": [-1, 1.25], "nice": false, "zero": false},
          "axis": {
            "orient": "bottom",
            "title": "cos(ϕ)",
            "values": [-1, -0.5, 0, 0.5, 1],
            "labelExpr": "datum.value < 0 ? '-' + replace(format(-datum.value, '.1f'), '.', ',') : replace(format(datum.value, '.1f'), '.', ',')",
            "titlePadding": 8
          }
        },
        "y": {
          "field": "tau",
          "type": "quantitative",
          "scale": {"domain": [0, 45000], "nice": false},
          "axis": {
            "orient": "left",
            "title": "Naprezenia styczne[s⁻¹]",
            "values": [0, 5000, 10000, 15000, 20000, 25000, 30000, 35000, 40000, 45000],
            "format": "d",
            "titlePadding": 6
          }
        },
        "color": {
          "field": "series",
          "type": "nominal",
          "scale": {"domain": ["11y+", "5y+", "2.5y+"], "range": ["#000000", "#ff0000", "#00ee00"]},
          "legend": {
            "orient": "none",
            "legendX": 273,
            "legendY": 1,
            "title": null,
            "strokeColor": "black",
            "fillColor": "white",
            "padding": 6,
            "rowPadding": 2,
            "labelFont": "Liberation Sans",
            "labelFontSize": 10,
            "labelColor": "black",
            "symbolSize": 25,
            "labelOffset": 10
          }
        },
        "shape": {
          "field": "series",
          "type": "nominal",
          "scale": {"domain": ["11y+", "5y+", "2.5y+"], "range": ["square", "circle", "triangle-up"]}
        },
        "size": {
          "condition": {"test": "datum.series === '2.5y+'", "value": 36},
          "value": 22
        }
      }
    },
    {
      "mark": {"type": "point", "opacity": 0},
      "encoding": {
        "x": {
          "field": "cos",
          "type": "quantitative",
          "scale": {"domain": [-1, 1.25], "nice": false, "zero": false},
          "axis": {"orient": "bottom", "title": null, "domain": false, "labels": false, "tickSize": 2, "values": [-0.75, -0.25, 0.25, 0.75, 1.25]}
        },
        "y": {
          "field": "tau",
          "type": "quantitative",
          "scale": {"domain": [0, 45000], "nice": false},
          "axis": {"orient": "left", "title": null, "domain": false, "labels": false, "tickSize": 2, "values": [2500, 7500, 12500, 17500, 22500, 27500, 32500, 37500, 42500]}
        }
      }
    }
  ],
  "resolve": {"axis": {"x": "independent", "y": "independent"}}
}
